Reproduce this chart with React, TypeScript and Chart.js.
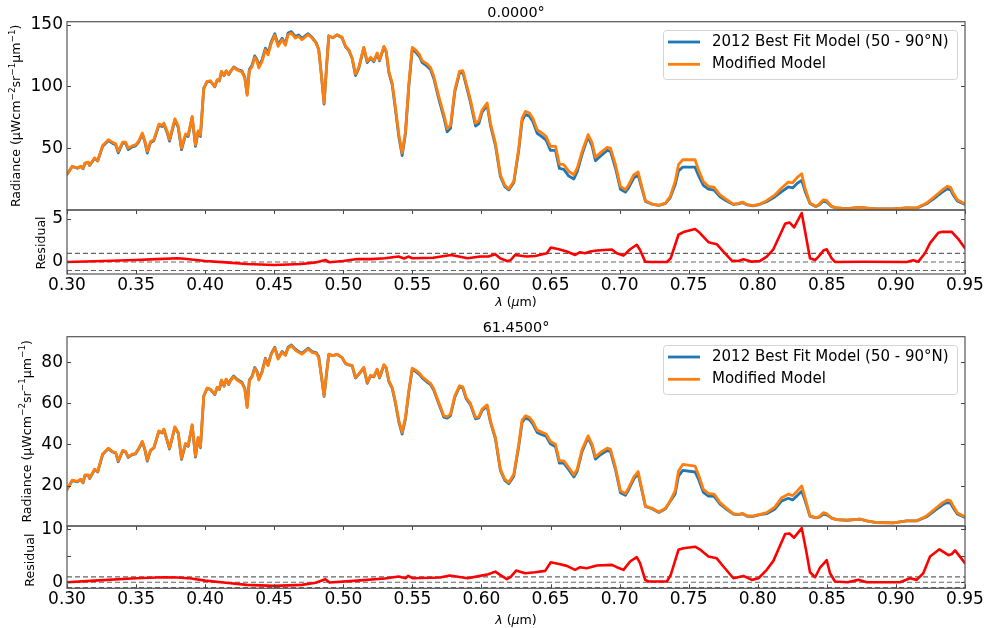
import React, { useEffect, useRef } from 'react';
import { Chart, registerables } from 'chart.js';

Chart.register(...registerables);

const FONT = "'DejaVu Sans', 'Noto Sans', sans-serif";
const BLUE = '#1f77b4';
const ORANGE = '#ff7f0e';
const RED = '#ff0000';

const X_TICKS = [0.3, 0.35, 0.4, 0.45, 0.5, 0.55, 0.6, 0.65, 0.7, 0.75, 0.8, 0.85, 0.9, 0.95];
const DASH_LEVELS = [-1, 0, 1];

const WAVELENGTH = [
  0.3000, 0.3038, 0.3075, 0.3099, 0.3116, 0.3130, 0.3154, 0.3164, 0.3200, 0.3222,
  0.3258, 0.3299, 0.3328, 0.3352, 0.3371, 0.3403, 0.3424, 0.3443, 0.3472, 0.3496,
  0.3520, 0.3545, 0.3564, 0.3581, 0.3605, 0.3629, 0.3665, 0.3689, 0.3701, 0.3725,
  0.3742, 0.3781, 0.3805, 0.3829, 0.3858, 0.3877, 0.3906, 0.3930, 0.3949, 0.3966,
  0.3990, 0.4014, 0.4038, 0.4070, 0.4087, 0.4103, 0.4118, 0.4137, 0.4152, 0.4171,
  0.4183, 0.4207, 0.4231, 0.4267, 0.4287, 0.4304, 0.4320, 0.4340, 0.4359, 0.4376,
  0.4388, 0.4412, 0.4436, 0.4455, 0.4479, 0.4504, 0.4528, 0.4557, 0.4581, 0.4600,
  0.4624, 0.4653, 0.4677, 0.4701, 0.4745, 0.4774, 0.4803, 0.4822, 0.4841, 0.4861,
  0.4878, 0.4895, 0.4924, 0.4955, 0.4991, 0.5016, 0.5040, 0.5064, 0.5088, 0.5112,
  0.5148, 0.5173, 0.5197, 0.5221, 0.5245, 0.5262, 0.5294, 0.5310, 0.5330, 0.5354,
  0.5378, 0.5402, 0.5426, 0.5450, 0.5474, 0.5499, 0.5523, 0.5552, 0.5571, 0.5607,
  0.5631, 0.5655, 0.5691, 0.5728, 0.5752, 0.5776, 0.5807, 0.5841, 0.5865, 0.5889,
  0.5920, 0.5957, 0.5981, 0.6005, 0.6041, 0.6065, 0.6101, 0.6137, 0.6169, 0.6198,
  0.6234, 0.6270, 0.6294, 0.6318, 0.6347, 0.6371, 0.6403, 0.6439, 0.6468, 0.6499,
  0.6536, 0.6564, 0.6596, 0.6632, 0.6669, 0.6693, 0.6729, 0.6772, 0.6801, 0.6825,
  0.6861, 0.6910, 0.6934, 0.6970, 0.7006, 0.7042, 0.7066, 0.7103, 0.7134, 0.7151,
  0.7187, 0.7235, 0.7284, 0.7332, 0.7366, 0.7402, 0.7426, 0.7457, 0.7546, 0.7570,
  0.7606, 0.7643, 0.7684, 0.7727, 0.7775, 0.7823, 0.7859, 0.7891, 0.7924, 0.7968,
  0.8016, 0.8064, 0.8125, 0.8173, 0.8221, 0.8252, 0.8286, 0.8318, 0.8342, 0.8378,
  0.8421, 0.8446, 0.8475, 0.8499, 0.8535, 0.8571, 0.8644, 0.8740, 0.8789, 0.8861,
  0.8982, 0.9078, 0.9150, 0.9222, 0.9295, 0.9338, 0.9372, 0.9396, 0.9415, 0.9444,
  0.9488, 0.9500,
];

const MODIFIED_0 = [
  29.2, 35.5, 34.1, 35.5, 33.7, 38.1, 38.9, 36.3, 42.2, 40.0,
  52.4, 57.0, 55.0, 53.7, 47.6, 55.1, 55.0, 50.2, 52.0, 52.8,
  56.1, 62.4, 55.8, 47.6, 55.6, 57.0, 69.6, 68.5, 70.4, 63.7,
  57.0, 73.9, 67.9, 50.2, 61.6, 60.5, 75.8, 52.9, 64.2, 60.5,
  98.7, 104.1, 104.5, 100.0, 105.4, 104.7, 112.2, 109.0, 112.7, 109.7,
  112.0, 115.4, 113.4, 111.6, 106.7, 92.8, 112.7, 116.2, 123.5, 120.3,
  114.9, 120.3, 129.6, 125.6, 135.0, 141.3, 132.4, 137.7, 133.3, 141.8,
  143.1, 139.1, 140.4, 137.7, 141.8, 139.1, 135.0, 129.6, 109.4, 86.6,
  114.9, 140.8, 139.5, 141.8, 139.7, 132.4, 129.6, 123.0, 110.0, 115.4,
  131.6, 120.3, 123.5, 120.8, 127.0, 121.6, 132.4, 128.8, 112.2, 102.7,
  82.5, 61.0, 46.2, 63.7, 101.4, 131.6, 129.6, 125.6, 120.8, 118.1,
  115.4, 108.2, 92.0, 77.2, 65.9, 68.6, 97.3, 112.2, 112.7, 102.7,
  89.3, 70.4, 72.3, 81.2, 86.6, 70.4, 54.3, 28.7, 20.1, 17.4,
  23.3, 50.2, 74.5, 79.9, 78.6, 74.5, 65.0, 62.3, 59.6, 51.6,
  51.6, 37.3, 36.8, 31.4, 28.7, 34.1, 47.6, 61.1, 54.4, 42.8,
  46.3, 50.8, 50.2, 36.8, 19.3, 16.6, 20.6, 28.7, 30.9, 23.3,
  7.7, 5.0, 3.9, 5.8, 11.0, 23.3, 36.8, 40.8, 40.8, 32.8,
  23.3, 19.3, 18.5, 12.5, 8.5, 5.0, 5.5, 6.6, 4.5, 3.7,
  5.0, 7.7, 12.5, 17.9, 22.8, 22.2, 26.6, 29.5, 17.9, 5.8,
  3.1, 5.0, 8.5, 7.7, 3.1, 1.8, 1.3, 2.4, 1.8, 1.0,
  1.0, 1.8, 1.8, 5.8, 12.5, 16.6, 19.3, 18.5, 13.9, 8.5,
  5.8, 5.0,
];

const BEST_FIT_0 = [
  29.0, 35.3, 33.9, 35.3, 33.5, 37.9, 38.7, 36.1, 42.0, 39.8,
  51.6, 56.2, 54.2, 52.9, 46.3, 54.3, 54.2, 49.0, 51.2, 52.0,
  55.3, 61.6, 55.0, 46.2, 54.8, 56.2, 68.6, 67.6, 69.5, 62.6,
  55.8, 73.0, 66.8, 48.9, 60.7, 59.6, 75.0, 51.7, 63.3, 59.6,
  98.4, 103.8, 104.2, 99.7, 105.1, 104.4, 111.9, 108.7, 112.4, 109.4,
  112.0, 115.7, 113.9, 112.4, 107.5, 93.6, 113.7, 117.4, 124.7, 121.5,
  116.2, 121.6, 130.9, 126.9, 136.3, 142.6, 133.7, 139.0, 134.6, 143.1,
  144.3, 140.3, 141.6, 138.9, 142.6, 139.7, 135.4, 129.9, 109.7, 85.8,
  114.9, 140.8, 139.3, 141.6, 139.4, 132.0, 129.1, 122.5, 108.8, 114.6,
  131.1, 119.3, 122.7, 120.0, 126.4, 120.8, 131.8, 128.0, 111.0, 101.2,
  80.7, 59.2, 44.2, 61.9, 99.6, 130.0, 127.9, 124.0, 119.2, 116.4,
  113.7, 106.4, 90.0, 74.9, 63.3, 66.2, 95.5, 110.8, 111.3, 101.0,
  87.3, 68.0, 70.0, 79.3, 85.0, 68.6, 52.4, 27.3, 19.0, 16.5,
  22.2, 48.5, 72.2, 77.4, 76.0, 71.8, 62.2, 59.3, 56.6, 48.4,
  48.3, 33.8, 33.0, 27.6, 25.3, 31.2, 45.3, 59.5, 51.8, 40.0,
  43.7, 48.3, 47.6, 34.1, 17.0, 14.6, 18.2, 26.2, 28.3, 21.5,
  7.1, 4.9, 3.9, 5.6, 10.0, 20.5, 31.8, 34.8, 34.8, 28.3,
  20.1, 17.0, 16.3, 10.9, 7.5, 4.7, 5.1, 6.1, 4.3, 3.6,
  4.8, 6.9, 10.9, 15.1, 18.8, 18.0, 21.8, 24.1, 15.4, 5.5,
  2.9, 4.5, 7.3, 6.5, 2.9, 1.8, 1.3, 2.3, 1.8, 1.0,
  1.0, 1.8, 1.7, 5.2, 11.1, 14.8, 17.3, 16.5, 12.3, 7.5,
  5.2, 4.6,
];

const MODIFIED_61 = [
  18.2, 22.6, 22.0, 23.1, 21.5, 25.2, 25.2, 23.6, 28.0, 26.8,
  35.3, 38.2, 36.6, 36.1, 32.0, 37.1, 36.6, 34.0, 35.3, 35.6,
  38.2, 41.5, 37.6, 32.3, 37.3, 38.5, 46.6, 45.8, 47.5, 42.1,
  38.2, 48.6, 45.8, 33.3, 40.5, 39.4, 49.6, 34.4, 43.4, 38.8,
  63.7, 67.5, 67.0, 64.5, 67.9, 67.0, 71.4, 68.6, 71.9, 69.4,
  71.0, 73.0, 71.4, 69.8, 67.0, 58.0, 71.0, 73.0, 77.1, 75.2,
  71.4, 75.2, 81.6, 78.4, 84.0, 87.0, 81.6, 84.9, 83.3, 87.0,
  88.1, 86.0, 84.9, 84.0, 86.5, 84.9, 84.4, 82.4, 73.5, 63.7,
  74.3, 84.0, 83.3, 84.0, 82.4, 79.5, 78.9, 78.4, 72.7, 74.3,
  77.6, 70.2, 73.7, 73.2, 76.7, 72.7, 78.9, 77.6, 71.0, 67.8,
  60.5, 51.5, 45.9, 53.2, 66.1, 77.2, 76.2, 74.6, 73.0, 71.0,
  69.8, 67.0, 60.5, 54.0, 53.5, 54.8, 63.7, 68.6, 68.1, 62.9,
  60.0, 53.2, 53.5, 57.2, 59.3, 51.5, 43.4, 28.0, 23.1, 21.5,
  25.5, 40.1, 51.9, 54.0, 53.2, 51.2, 47.0, 45.9, 45.1, 41.5,
  40.1, 32.0, 32.0, 28.8, 25.2, 28.0, 37.7, 44.2, 40.1, 34.0,
  36.1, 38.2, 37.6, 28.8, 17.4, 16.1, 19.0, 24.2, 26.8, 21.5,
  10.0, 8.9, 7.1, 8.9, 12.5, 17.4, 27.1, 30.3, 29.5, 25.5,
  18.2, 16.1, 15.8, 11.7, 8.9, 6.3, 6.0, 6.4, 5.2, 5.2,
  6.0, 6.8, 9.6, 14.1, 15.8, 15.1, 17.4, 19.8, 14.1, 5.2,
  4.4, 4.9, 6.8, 6.3, 4.1, 3.4, 3.1, 3.6, 2.8, 2.0,
  1.8, 2.8, 2.8, 5.2, 9.3, 11.7, 13.0, 12.5, 10.0, 6.8,
  5.2, 4.8,
];

const BEST_FIT_61 = [
  18.0, 22.4, 21.8, 22.9, 21.3, 25.0, 25.0, 23.4, 27.8, 26.6,
  35.1, 38.0, 36.4, 35.9, 31.6, 36.9, 36.4, 33.7, 35.1, 35.4,
  38.0, 41.3, 37.3, 31.9, 37.1, 38.3, 46.4, 45.6, 47.3, 41.8,
  37.8, 48.4, 45.5, 32.8, 40.2, 39.1, 49.4, 33.9, 43.1, 38.4,
  63.5, 67.3, 66.8, 64.3, 67.7, 66.8, 71.2, 68.4, 71.7, 69.2,
  71.4, 73.4, 71.8, 70.2, 67.4, 58.4, 71.4, 73.4, 77.5, 75.6,
  71.8, 75.6, 82.0, 78.8, 84.4, 87.4, 82.0, 85.3, 83.7, 87.4,
  88.5, 86.4, 85.3, 84.4, 86.9, 85.3, 84.8, 82.8, 73.4, 63.4,
  74.2, 83.9, 83.2, 83.9, 82.3, 79.4, 78.8, 78.3, 72.4, 74.2,
  77.3, 69.8, 73.4, 72.9, 76.4, 72.4, 78.6, 77.3, 70.6, 67.3,
  59.9, 50.9, 45.1, 52.5, 65.5, 76.6, 75.6, 74.0, 72.4, 70.4,
  69.2, 66.4, 59.8, 53.3, 52.8, 54.1, 63.1, 68.0, 67.5, 62.3,
  59.4, 52.5, 52.9, 56.6, 58.7, 50.9, 42.8, 27.4, 22.5, 20.9,
  24.6, 39.1, 50.8, 52.9, 52.1, 50.1, 45.9, 44.8, 44.0, 40.3,
  38.9, 30.9, 30.9, 27.7, 24.2, 27.0, 36.7, 43.3, 39.0, 32.9,
  35.0, 37.1, 36.5, 27.8, 16.5, 15.3, 18.1, 23.2, 25.8, 20.6,
  9.8, 8.7, 6.9, 8.7, 12.3, 15.9, 24.6, 27.4, 26.6, 23.3,
  16.7, 14.9, 14.7, 10.9, 8.4, 6.1, 5.8, 6.2, 5.0, 5.0,
  5.8, 6.3, 8.6, 12.5, 13.8, 13.0, 15.1, 17.2, 12.8, 5.0,
  4.3, 4.6, 6.1, 5.7, 4.1, 3.4, 3.1, 3.6, 2.8, 2.0,
  1.8, 2.8, 2.8, 4.8, 8.5, 10.6, 11.7, 11.3, 9.1, 6.2,
  4.8, 4.5,
];

const RES_WAVELENGTH_0 = [
  0.300, 0.320, 0.350, 0.365, 0.380, 0.385, 0.400, 0.415, 0.430, 0.450,
  0.470, 0.480, 0.487, 0.490, 0.500, 0.510, 0.520, 0.530, 0.540, 0.544,
  0.547, 0.550, 0.565, 0.578, 0.590, 0.599, 0.605, 0.610, 0.6135, 0.6184,
  0.621, 0.6244, 0.6328, 0.6389, 0.6473, 0.6502, 0.656, 0.6618, 0.6678, 0.6714,
  0.675, 0.6787, 0.6835, 0.6944, 0.698, 0.7028, 0.7076, 0.7124, 0.7148, 0.7185,
  0.722, 0.7342, 0.737, 0.7426, 0.7462, 0.7546, 0.758, 0.7643, 0.7703, 0.7751,
  0.7812, 0.786, 0.7896, 0.7957, 0.8017, 0.8065, 0.8113, 0.8198, 0.8229, 0.8263,
  0.8318, 0.8378, 0.8415, 0.844, 0.8475, 0.8499, 0.8535, 0.8559, 0.8764, 0.9078,
  0.9126, 0.9162, 0.921, 0.9247, 0.9307, 0.9331, 0.9404, 0.9452, 0.95,
];
const RESIDUAL_0 = [
  0.0, 0.08, 0.23, 0.33, 0.43, 0.38, 0.12, -0.05, -0.23, -0.35,
  -0.23, -0.05, 0.23, -0.04, 0.12, 0.35, 0.33, 0.43, 0.63, 0.4,
  0.63, 0.43, 0.5, 0.82, 0.43, 0.63, 0.63, 0.9, 0.43, 0.12,
  0.2, 0.82, 0.63, 0.7, 1.02, 1.68, 1.48, 1.21, 0.82, 1.14,
  1.02, 1.21, 1.33, 1.45, 1.02, 0.74, 1.48, 2.0, 1.4, 0.04,
  0.0, 0.0, 0.43, 3.17, 3.48, 3.83, 3.4, 2.3, 2.07, 1.21,
  0.16, 0.12, 0.31, 0.04, 0.12, 0.63, 1.48, 4.45, 4.6, 4.02,
  5.7, 0.43, 0.23, 0.63, 1.33, 1.48, 0.43, 0.0, 0.03, 0.0,
  0.2, 0.04, 1.02, 2.2, 3.4, 3.5, 3.5, 2.66, 1.6,
];

const RES_WAVELENGTH_61 = [
  0.300, 0.320, 0.350, 0.370, 0.380, 0.390, 0.400, 0.415, 0.430, 0.450,
  0.470, 0.480, 0.487, 0.490, 0.510, 0.530, 0.540, 0.545, 0.547, 0.550,
  0.570, 0.577, 0.590, 0.599, 0.605, 0.610, 0.6135, 0.6184, 0.621, 0.6251,
  0.6316, 0.6389, 0.6461, 0.6502, 0.657, 0.6618, 0.6678, 0.6714, 0.6762, 0.6835,
  0.6944, 0.698, 0.7028, 0.7076, 0.7124, 0.7148, 0.7185, 0.721, 0.7342, 0.737,
  0.7426, 0.7462, 0.7546, 0.758, 0.7643, 0.7703, 0.7751, 0.7824, 0.7896, 0.7957,
  0.8005, 0.8065, 0.8113, 0.8198, 0.8229, 0.8263, 0.8318, 0.8349, 0.8378, 0.8415,
  0.8451, 0.8499, 0.8523, 0.8559, 0.865, 0.8728, 0.879, 0.903, 0.9102, 0.915,
  0.9198, 0.9247, 0.9315, 0.938, 0.9404, 0.9428, 0.95,
];
const RESIDUAL_61 = [
  0.0, 0.3, 0.75, 0.94, 0.9, 0.7, 0.3, -0.1, -0.5, -0.7,
  -0.5, -0.1, 0.57, -0.06, 0.3, 0.7, 1.06, 0.75, 1.2, 0.75,
  0.9, 1.25, 0.75, 1.19, 1.5, 2.0, 1.38, 0.57, 0.94, 2.19,
  1.69, 1.88, 2.14, 3.77, 3.4, 3.08, 2.33, 2.83, 2.64, 3.14,
  3.27, 2.83, 2.33, 3.9, 4.72, 3.6, 0.44, 0.13, 0.13, 1.38,
  6.1, 6.4, 6.7, 6.2, 4.83, 4.5, 2.96, 0.75, 1.19, 0.44,
  0.75, 2.33, 4.02, 9.1, 9.2, 8.4, 10.2, 6.1, 1.88, 0.94,
  2.77, 4.15, 1.69, 0.13, 0.0, 0.44, 0.0, 0.0, 0.75, 0.44,
  1.69, 4.83, 6.2, 5.1, 5.3, 6.0, 3.6,
];

type Seg = { t: string; sup?: boolean; italic?: boolean };

const RADIANCE_LABEL: Seg[] = [
  { t: 'Radiance (\u03bcWcm' },
  { t: '\u22122', sup: true },
  { t: 'sr' },
  { t: '\u22121', sup: true },
  { t: '\u03bcm' },
  { t: '\u22121', sup: true },
  { t: ')' },
];
const RESIDUAL_LABEL: Seg[] = [{ t: 'Residual' }];
const LAMBDA_LABEL: Seg[] = [
  { t: '\u03bb', italic: true },
  { t: ' (' },
  { t: '\u03bc', italic: true },
  { t: 'm)' },
];
const LEGEND_ITEMS = [
  { label: '2012 Best Fit Model (50 - 90\u00b0N)', color: BLUE },
  { label: 'Modified Model', color: ORANGE },
];

const pairs = (xs: number[], ys: number[]) => xs.map((x, i) => ({ x, y: ys[i] }));

function segFont(s: Seg, size: number) {
  return `${s.italic ? 'italic ' : ''}${s.sup ? size * 0.7 : size}px ${FONT}`;
}

function drawRich(ctx: CanvasRenderingContext2D, segs: Seg[], cx: number, cy: number, size: number, rotate: boolean) {
  ctx.save();
  ctx.translate(cx, cy);
  if (rotate) ctx.rotate(-Math.PI / 2);
  ctx.textBaseline = 'middle';
  ctx.textAlign = 'left';
  ctx.fillStyle = '#000';
  const widths = segs.map((s) => {
    ctx.font = segFont(s, size);
    return ctx.measureText(s.t).width;
  });
  const total = widths.reduce((a, b) => a + b, 0);
  let x = -total / 2;
  segs.forEach((s, i) => {
    ctx.font = segFont(s, size);
    ctx.fillText(s.t, x, s.sup ? -size * 0.38 : 0);
    x += widths[i];
  });
  ctx.restore();
}

type PanelCfg = {
  padTop: number;
  padBottom: number;
  xVisible: boolean;
  xHeight: number;
  yMin: number;
  yMax: number;
  yLabels: number[];
  yMarks: number[];
  xMarks: boolean;
  title?: { text: string; y: number };
  yLabel: { segs: Seg[]; x: number; dy: number };
  xLabelY?: number;
  legend: boolean;
  datasets: any[];
};

function decor(p: PanelCfg) {
  return {
    id: 'decor',
    afterDraw(chart: any) {
      const ctx: CanvasRenderingContext2D = chart.ctx;
      const a = chart.chartArea;
      const xs = chart.scales.x;
      const ys = chart.scales.y;
      ctx.save();
      ctx.strokeStyle = '#444';
      ctx.lineWidth = 1;
      const seg = (x1: number, y1: number, x2: number, y2: number) => {
        ctx.beginPath();
        ctx.moveTo(x1, y1);
        ctx.lineTo(x2, y2);
        ctx.stroke();
      };
      p.yMarks.forEach((v) => {
        const py = Math.round(ys.getPixelForValue(v)) + 0.5;
        seg(a.left, py, a.left + 4, py);
        seg(a.right - 4, py, a.right, py);
      });
      if (p.xMarks) {
        X_TICKS.forEach((v) => {
          const px = Math.round(xs.getPixelForValue(v)) + 0.5;
          seg(px, a.top, px, a.top + 4);
          seg(px, a.bottom - 4, px, a.bottom);
        });
      }
      ctx.strokeStyle = '#555';
      ctx.lineWidth = 1.2;
      ctx.strokeRect(a.left, a.top, a.right - a.left, a.bottom - a.top);
      if (p.title) {
        ctx.fillStyle = '#000';
        ctx.font = `14.4px ${FONT}`;
        ctx.textAlign = 'center';
        ctx.textBaseline = 'alphabetic';
        ctx.fillText(p.title.text, (a.left + a.right) / 2, p.title.y);
      }
      drawRich(ctx, p.yLabel.segs, p.yLabel.x, (a.top + a.bottom) / 2 + p.yLabel.dy, 12.6, true);
      if (p.xLabelY !== undefined) {
        drawRich(ctx, LAMBDA_LABEL, (a.left + a.right) / 2, p.xLabelY, 12.6, false);
      }
      if (p.legend) {
        const bx = 663;
        const by = a.top + 8.3;
        const bw = 294;
        const bh = 49;
        ctx.beginPath();
        if ((ctx as any).roundRect) (ctx as any).roundRect(bx + 0.5, by + 0.5, bw, bh, 3);
        else ctx.rect(bx + 0.5, by + 0.5, bw, bh);
        ctx.fillStyle = 'rgba(255,255,255,0.8)';
        ctx.fill();
        ctx.strokeStyle = '#d4d4d4';
        ctx.lineWidth = 1;
        ctx.stroke();
        LEGEND_ITEMS.forEach((it, i) => {
          const ry = by + 12 + i * 22.3;
          ctx.strokeStyle = it.color;
          ctx.lineWidth = 2.8;
          ctx.beginPath();
          ctx.moveTo(668, ry);
          ctx.lineTo(700, ry);
          ctx.stroke();
          ctx.fillStyle = '#000';
          ctx.font = `15px ${FONT}`;
          ctx.textAlign = 'left';
          ctx.textBaseline = 'middle';
          ctx.fillText(it.label, 712, ry);
        });
      }
      ctx.restore();
    },
  };
}

function spectrumSets(best: number[], mod: number[]) {
  return [
    { label: 'Modified Model', data: pairs(WAVELENGTH, mod), borderColor: ORANGE, borderWidth: 2.8, order: 0 },
    { label: '2012 Best Fit Model (50 - 90\u00b0N)', data: pairs(WAVELENGTH, best), borderColor: BLUE, borderWidth: 2.8, order: 1 },
  ];
}

function residualSets(xs: number[], ys: number[]) {
  const dashes = DASH_LEVELS.map((lvl) => ({
    label: `level ${lvl}`,
    data: [{ x: 0.3, y: lvl }, { x: 0.95, y: lvl }],
    borderColor: 'rgba(60,60,60,0.8)',
    borderWidth: 1.1,
    borderDash: [5, 3],
    borderCapStyle: 'butt',
    order: 1,
  }));
  return [{ label: 'Residual', data: pairs(xs, ys), borderColor: RED, borderWidth: 2.6, order: 0 }, ...dashes];
}

const PANELS: PanelCfg[] = [
  {
    padTop: 21.7, padBottom: 418, xVisible: false, xHeight: 0,
    yMin: 0.2, yMax: 152.3, yLabels: [50, 100, 150], yMarks: [50, 100, 150], xMarks: false,
    title: { text: '0.0000\u00b0', y: 16.5 },
    yLabel: { segs: RADIANCE_LABEL, x: 17, dy: 0 },
    legend: true,
    datasets: spectrumSets(BEST_FIT_0, MODIFIED_0),
  },
  {
    padTop: 210, padBottom: 314, xVisible: true, xHeight: 40,
    yMin: -1.4, yMax: 6.05, yLabels: [0, 5], yMarks: [0, 5], xMarks: true,
    yLabel: { segs: RESIDUAL_LABEL, x: 42, dy: 1 },
    xLabelY: 303,
    legend: false,
    datasets: residualSets(RES_WAVELENGTH_0, RESIDUAL_0),
  },
  {
    padTop: 336.7, padBottom: 102, xVisible: false, xHeight: 0,
    yMin: 0.3, yMax: 92.5, yLabels: [20, 40, 60, 80], yMarks: [20, 40, 60, 80], xMarks: false,
    title: { text: '61.4500\u00b0', y: 331.5 },
    yLabel: { segs: RADIANCE_LABEL, x: 27.5, dy: 0 },
    legend: true,
    datasets: spectrumSets(BEST_FIT_61, MODIFIED_61),
  },
  {
    padTop: 526, padBottom: 0, xVisible: true, xHeight: 39.7,
    yMin: -1.15, yMax: 10.6, yLabels: [0, 10], yMarks: [0, 5, 10], xMarks: true,
    yLabel: { segs: RESIDUAL_LABEL, x: 31, dy: 3 },
    xLabelY: 620.5,
    legend: false,
    datasets: residualSets(RES_WAVELENGTH_61, RESIDUAL_61),
  },
];

function makeChart(canvas: HTMLCanvasElement, p: PanelCfg) {
  return new Chart(canvas, {
    type: 'line',
    data: {
      datasets: p.datasets.map((d) => ({
        borderJoinStyle: 'round',
        borderCapStyle: 'round',
        ...d,
        pointRadius: 0,
        tension: 0,
        fill: false,
      })),
    },
    options: {
      animation: false,
      responsive: false,
      devicePixelRatio: 1,
      events: [],
      layout: { padding: { left: 0, right: 23, top: p.padTop, bottom: p.padBottom } },
      plugins: { legend: { display: false }, title: { display: false }, tooltip: { enabled: false } },
      scales: {
        x: {
          type: 'linear',
          min: 0.3,
          max: 0.95,
          display: p.xVisible,
          grid: { display: false, drawTicks: false },
          border: { display: false },
          ticks: {
            color: '#000',
            font: { family: FONT, size: 17 },
            padding: 1,
            maxRotation: 0,
            autoSkip: false,
            callback: (v: any) => Number(v).toFixed(2),
          },
          afterBuildTicks: (s: any) => {
            s.ticks = X_TICKS.map((value) => ({ value }));
          },
          afterFit: (s: any) => {
            s.height = p.xHeight;
          },
        },
        y: {
          type: 'linear',
          min: p.yMin,
          max: p.yMax,
          grid: { display: false, drawTicks: false },
          border: { display: false },
          ticks: {
            color: '#000',
            font: { family: FONT, size: 17 },
            padding: 4,
            autoSkip: false,
            callback: (v: any) => String(v),
          },
          afterBuildTicks: (s: any) => {
            s.ticks = p.yLabels.map((value) => ({ value }));
          },
          afterFit: (s: any) => {
            s.width = 67;
          },
        },
      },
    } as any,
    plugins: [decor(p)],
  });
}

export default function App() {
  const refs = [useRef<HTMLCanvasElement>(null), useRef<HTMLCanvasElement>(null), useRef<HTMLCanvasElement>(null), useRef<HTMLCanvasElement>(null)];
  useEffect(() => {
    const charts = PANELS.map((p, i) => makeChart(refs[i].current as HTMLCanvasElement, p));
    return () => charts.forEach((c) => c.destroy());
  }, []);
  return (
    <div style={{ position: 'fixed', left: 0, top: 0, width: 988, height: 628, background: '#fff', overflow: 'hidden' }}>
      {refs.map((r, i) => (
        <canvas key={i} ref={r} width={988} height={628} style={{ position: 'absolute', left: 0, top: 0, width: 988, height: 628 }} />
      ))}
    </div>
  );
}
